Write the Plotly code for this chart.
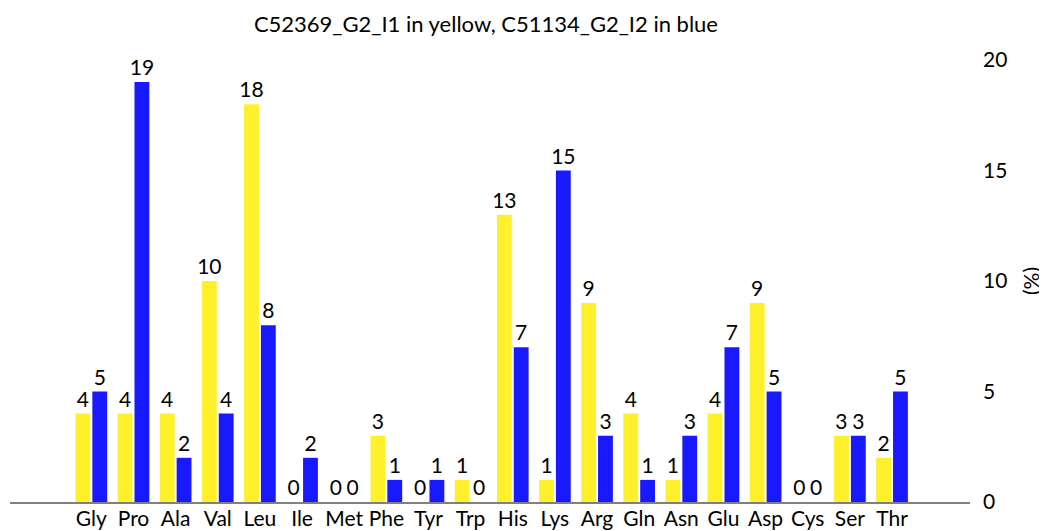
import plotly.graph_objects as go

categories = ["Gly", "Pro", "Ala", "Val", "Leu", "Ile", "Met", "Phe", "Tyr", "Trp",
              "His", "Lys", "Arg", "Gln", "Asn", "Glu", "Asp", "Cys", "Ser", "Thr"]
yellow_vals = [4, 4, 4, 10, 18, 0, 0, 3, 0, 1, 13, 1, 9, 4, 1, 4, 9, 0, 3, 2]
blue_vals = [5, 19, 2, 4, 8, 2, 0, 1, 1, 0, 7, 15, 3, 1, 3, 7, 5, 0, 3, 5]
y_ticks = [0, 5, 10, 15, 20]

FONT = "Lato"
YELLOW = "#FFF02C"
BLUE = "#1919FF"
LBL = 21

fig = go.Figure()
for vals, col in ((yellow_vals, YELLOW), (blue_vals, BLUE)):
    fig.add_trace(go.Bar(x=categories, y=vals, marker=dict(color=col, line=dict(width=0)),
                         text=[str(v) for v in vals], textposition="outside",
                         constraintext="none",
                         textfont=dict(family=FONT, size=LBL, color="black"),
                         cliponaxis=False))

fig.update_layout(
    width=1039, height=523,
    margin=dict(l=2, r=77, t=52, b=29),
    paper_bgcolor="white", plot_bgcolor="white",
    showlegend=False,
    barmode="group", bargap=0.2, bargroupgap=0.12,
    title=dict(text="C52369_G2_I1 in yellow, C51134_G2_I2 in blue",
               x=0.46, xanchor="center", y=0.968, yanchor="middle",
               font=dict(family=FONT, size=22, color="black")),
    font=dict(family=FONT, color="black"),
)
fig.update_xaxes(range=[-1.93, 20.85], showgrid=False, zeroline=False,
                 showline=True, linecolor="#808080", linewidth=2,
                 ticks="", ticklabelstandoff=-3,
                 tickfont=dict(family=FONT, size=LBL, color="black"),
                 automargin=False)
fig.update_yaxes(range=[0, 20], side="right", showgrid=False, zeroline=False,
                 showline=False, ticks="", tickvals=y_ticks,
                 ticktext=[str(v) for v in y_ticks], ticklabelstandoff=12,
                 tickfont=dict(family=FONT, size=LBL, color="black"),
                 title=dict(text="(%)", standoff=17, font=dict(family=FONT, size=LBL, color="black")),
                 automargin=False)

fig.write_html("out.html")
